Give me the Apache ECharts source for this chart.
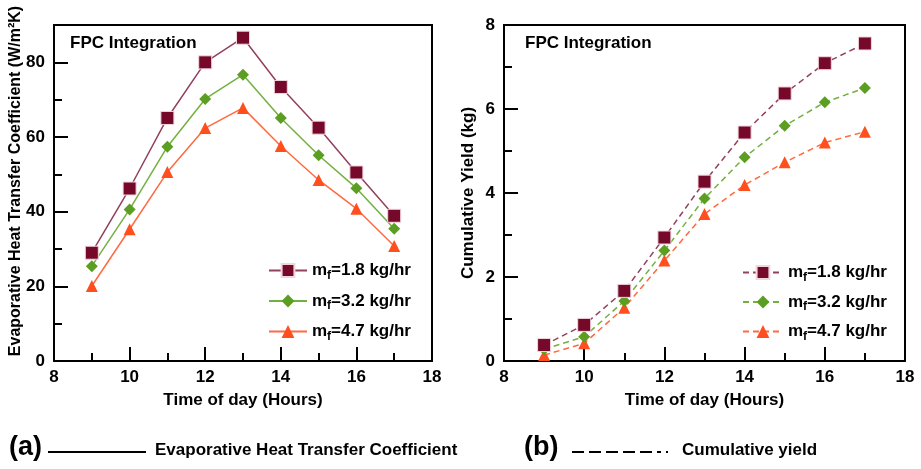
<!DOCTYPE html>
<html>
<head>
<meta charset="utf-8">
<script src="https://cdn.jsdelivr.net/npm/echarts@6/dist/echarts.min.js"></script>
<style>
  html, body { margin: 0; padding: 0; background: #fff; }
  #main { width: 921px; height: 469px; }
</style>
</head>
<body>
<div id="main"></div>
<script>
var hours = [9, 10, 11, 12, 13, 14, 15, 16, 17];
var flowRates = ['1.8', '3.2', '4.7'];
// evaporative heat transfer coefficient (W/m2K)
var heat18 = [29, 46.2, 65.1, 80, 86.6, 73.4, 62.5, 50.5, 38.9];
var heat32 = [25.4, 40.6, 57.4, 70.2, 76.7, 65.1, 55.1, 46.3, 35.4];
var heat47 = [20.1, 35.3, 50.6, 62.4, 67.8, 57.6, 48.5, 40.8, 30.8];
// cumulative yield (kg)
var yield18 = [0.38, 0.86, 1.67, 2.94, 4.27, 5.44, 6.37, 7.09, 7.56];
var yield32 = [0.28, 0.58, 1.43, 2.63, 3.87, 4.85, 5.6, 6.16, 6.5];
var yield47 = [0.14, 0.42, 1.27, 2.39, 3.5, 4.19, 4.73, 5.2, 5.46];

var colors = ['#76082a', '#5c9e22', '#ff4f1f'];
var lineColors = ['#93405c', '#74b040', '#ff6a40'];
var symbols = ['rect', 'diamond', 'triangle'];
var sizes = [13, 12, 12];
var font = 'Liberation Sans';

var chart = echarts.init(document.getElementById('main'));

function pairs(vals) {
  return hours.map(function (h, i) { return [h, vals[i]]; });
}

function makeSeries(name, idx, vals, grid, dashed) {
  return {
    name: name,
    type: 'line',
    xAxisIndex: grid,
    yAxisIndex: grid === 0 ? 0 : 2,
    data: pairs(vals),
    symbol: symbols[idx],
    symbolSize: sizes[idx],
    color: colors[idx],
    itemStyle: { color: colors[idx], borderColor: idx === 0 ? '#f2d6de' : colors[idx], borderWidth: idx === 0 ? 1 : 0 },
    lineStyle: { color: lineColors[idx], width: 1.5, type: dashed ? [6, 4] : 'solid' },
    z: 3 - idx
  };
}

var legendText = {
  fontFamily: font, fontSize: 17, fontWeight: 'bold', color: '#000',
  rich: {
    a: { fontFamily: font, fontSize: 17, fontWeight: 'bold', color: '#000' },
    s: { fontFamily: font, fontSize: 12, fontWeight: 'bold', color: '#000', padding: [10, 0, 0, 0] }
  }
};

function legendFmt(name) {
  var i = parseInt(name.slice(-1), 10);
  return '{a|m}{s|f}{a|=' + flowRates[i] + ' kg/hr}';
}

var seriesNamesA = flowRates.map(function (f, i) { return 'a' + i; });
var seriesNamesB = flowRates.map(function (f, i) { return 'b' + i; });

var labelStyle = { fontFamily: font, fontSize: 17, fontWeight: 'bold', color: '#000' };
var nameStyle = { fontFamily: font, fontSize: 17, fontWeight: 'bold', color: '#000' };

function xAxisCfg(grid) {
  return {
    type: 'value', gridIndex: grid, min: 8, max: 18, interval: 2,
    name: 'Time of day (Hours)', nameLocation: 'middle', nameGap: 31,
    nameTextStyle: nameStyle,
    axisLine: { lineStyle: { color: '#000', width: 2 } },
    axisTick: { inside: true, length: 14, lineStyle: { color: '#000', width: 2 } },
    minorTick: { show: true, splitNumber: 2, length: 8, lineStyle: { color: '#000', width: 2 } },
    axisLabel: Object.assign({ margin: 8 }, labelStyle),
    splitLine: { show: false }
  };
}

var option = {
  animation: false,
  backgroundColor: '#fff',
  grid: [
    { left: 54, top: 25, width: 378, height: 336, show: true, borderColor: '#000', borderWidth: 2 },
    { left: 504, top: 25, width: 401, height: 336, show: true, borderColor: '#000', borderWidth: 2 }
  ],
  xAxis: [xAxisCfg(0), xAxisCfg(1)],
  yAxis: [
    {
      type: 'value', gridIndex: 0, min: 0, max: 90, interval: 20, position: 'left',
      axisLine: { show: true, lineStyle: { color: '#000', width: 2 } },
      axisTick: { inside: true, length: 14, lineStyle: { color: '#000', width: 2 } },
      axisLabel: Object.assign({
        margin: 9,
        formatter: function (v) { return v % 20 === 0 ? String(v) : ''; }
      }, labelStyle),
      splitLine: { show: false }
    },
    {
      type: 'value', gridIndex: 0, min: 0, max: 90, interval: 10, position: 'left',
      axisLine: { show: false },
      axisTick: { inside: true, length: 8, lineStyle: { color: '#000', width: 2 } },
      axisLabel: { show: false },
      splitLine: { show: false }
    },
    {
      type: 'value', gridIndex: 1, min: 0, max: 8, interval: 2, position: 'left',
      name: 'Cumulative Yield (kg)', nameLocation: 'middle', nameGap: 27,
      nameTextStyle: nameStyle,
      axisLine: { show: true, lineStyle: { color: '#000', width: 2 } },
      axisTick: { inside: true, length: 14, lineStyle: { color: '#000', width: 2 } },
      minorTick: { show: true, splitNumber: 2, length: 8, lineStyle: { color: '#000', width: 2 } },
      axisLabel: Object.assign({ margin: 9 }, labelStyle),
      splitLine: { show: false }
    }
  ],
  legend: [
    {
      data: seriesNamesA, orient: 'vertical', left: 263, top: 257,
      itemWidth: 38, itemHeight: 16, itemGap: 11,
      formatter: legendFmt, textStyle: legendText
    },
    {
      data: seriesNamesB, orient: 'vertical', left: 737, top: 259,
      itemWidth: 40, itemHeight: 16, itemGap: 10,
      formatter: legendFmt, textStyle: legendText
    }
  ],
  series: [
    makeSeries('a0', 0, heat18, 0, false),
    makeSeries('a1', 1, heat32, 0, false),
    makeSeries('a2', 2, heat47, 0, false),
    makeSeries('b0', 0, yield18, 1, true),
    makeSeries('b1', 1, yield32, 1, true),
    makeSeries('b2', 2, yield47, 1, true)
  ],
  graphic: [
    {
      type: 'text', x: 16, y: 181, rotation: Math.PI / 2,
      style: {
        text: 'Evaporative Heat Transfer Coefficient (W/m\u00b2K)', fontFamily: font, fontSize: 16,
        fontWeight: 'bold', fill: '#000', align: 'center', verticalAlign: 'middle'
      }
    },
    { type: 'text', left: 70, top: 35, style: { text: 'FPC Integration', fontFamily: font, fontSize: 17, fontWeight: 'bold', fill: '#000' } },
    { type: 'text', left: 525, top: 35, style: { text: 'FPC Integration', fontFamily: font, fontSize: 17, fontWeight: 'bold', fill: '#000' } },
    { type: 'text', left: 9, top: 434, style: { text: '(a)', fontFamily: font, fontSize: 27, fontWeight: 'bold', fill: '#000' } },
    { type: 'line', shape: { x1: 48, y1: 452, x2: 146, y2: 452 }, style: { stroke: '#000', lineWidth: 2 } },
    { type: 'text', left: 155, top: 442, style: { text: 'Evaporative Heat Transfer Coefficient', fontFamily: font, fontSize: 17, fontWeight: 'bold', fill: '#000' } },
    { type: 'text', left: 524, top: 434, style: { text: '(b)', fontFamily: font, fontSize: 27, fontWeight: 'bold', fill: '#000' } },
    { type: 'line', shape: { x1: 572, y1: 452, x2: 661, y2: 452 }, style: { stroke: '#000', lineWidth: 2, lineDash: [12, 5] } },
    { type: 'line', shape: { x1: 666, y1: 452, x2: 668, y2: 452 }, style: { stroke: '#000', lineWidth: 2 } },
    { type: 'text', left: 682, top: 442, style: { text: 'Cumulative yield', fontFamily: font, fontSize: 17, fontWeight: 'bold', fill: '#000' } }
  ]
};

chart.setOption(option);
</script>
</body>
</html>
